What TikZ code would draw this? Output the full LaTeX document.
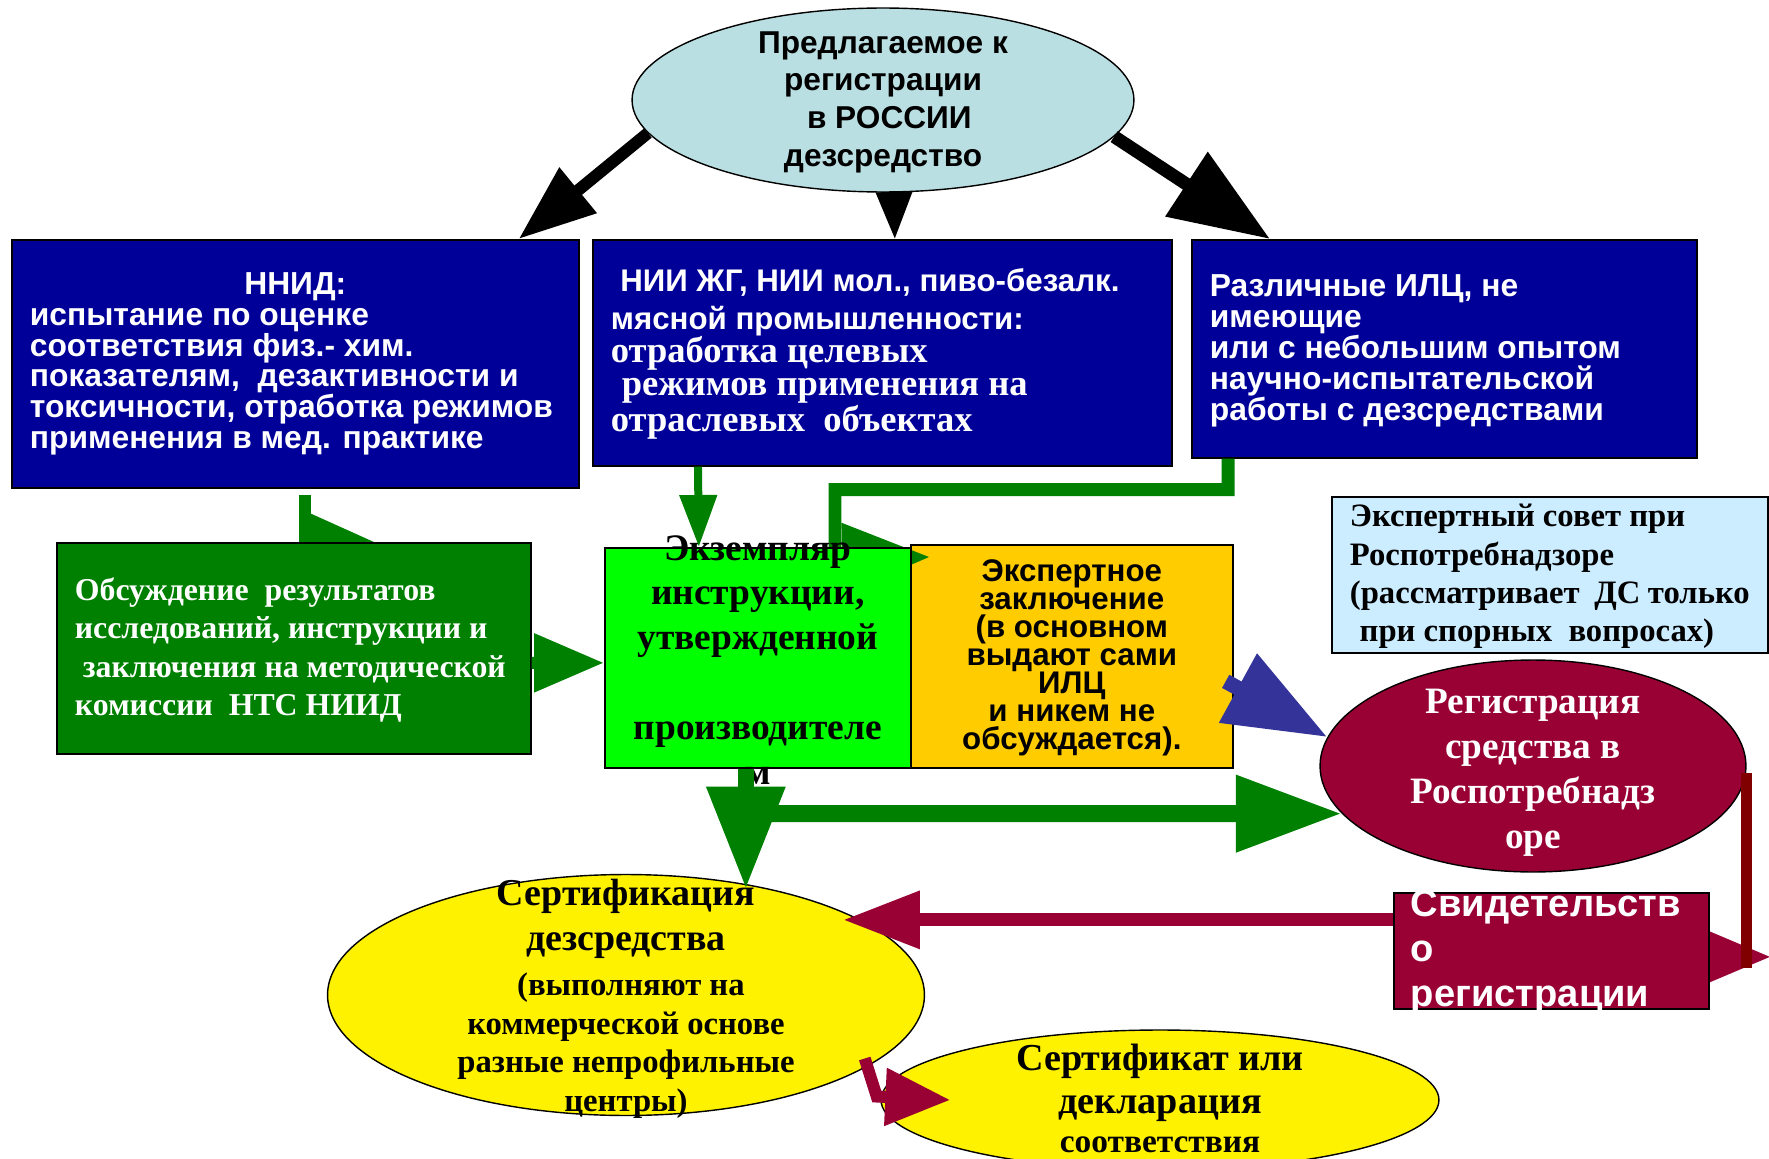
\documentclass[tikz,border=0pt]{standalone}
\usepackage{fontspec}
\setmainfont{Liberation Serif}
\setsansfont{Liberation Sans}
\usetikzlibrary{shapes.geometric,arrows.meta}

\definecolor{navy}{HTML}{000099}
\definecolor{paleteal}{HTML}{BADFE2}
\definecolor{dgreen}{HTML}{008000}
\definecolor{lgreen}{HTML}{00FF00}
\definecolor{gold}{HTML}{FFCC00}
\definecolor{skyblue}{HTML}{CCECFF}
\definecolor{wine}{HTML}{990033}
\definecolor{brick}{HTML}{800000}
\definecolor{indigo}{HTML}{333399}

\pgfdeclarelayer{background}
\pgfsetlayers{background,main}

% text does not count for the size of a node: boxes keep their own size
\newsavebox\txtbox
\newcommand{\boxtext}[3][7pt]{\setbox\txtbox\hbox{\parbox[c]{#2}{#3}}\ht\txtbox=0pt\dp\txtbox=0pt\hbox to 0pt{\hss\lower#1\box\txtbox\hss}}
\newcommand{\sans}[2]{\sffamily\bfseries\fontsize{#1}{#2}\selectfont}
\newcommand{\serif}[2]{\rmfamily\bfseries\fontsize{#1}{#2}\selectfont}

\tikzstyle{mybox} = [draw=black, line width=1pt, rectangle, inner sep=0pt, anchor=north west]
\tikzstyle{myoval} = [draw=black, line width=0.8pt, ellipse, inner sep=0pt]
\tikzset{fat/.style args={#1/#2/#3}{line width=#1, -{Triangle[length=#2,width=#3]}}}

\begin{document}
\begin{tikzpicture}[x=0.02cm, y=-0.02cm]
\useasboundingbox (0,0) rectangle (1769,1159);

\node[myoval, fill=paleteal, minimum width=10.04cm, minimum height=3.68cm] (pred) at (883,100)
  {\boxtext[7.5pt]{9cm}{\centering\sans{18}{21.5}Предлагаемое к\\ регистрации\\ \hspace*{.4em}в РОССИИ\\ дезсредство}};

\node[mybox, fill=navy, text=white, minimum width=11.34cm, minimum height=4.96cm] (nnid) at (11,239)
  {\boxtext[5pt]{10.62cm}{\sans{18.1}{17.6}\centering ННИД:\par\raggedright
   испытание по оценке\\ соответствия физ.- хим.\\ показателям,~ дезактивности и\\
   токсичности, отработка режимов\\ применения в мед. практике}};
\node[mybox, fill=navy, text=white, minimum width=11.58cm, minimum height=4.52cm] (nii) at (592,239)
  {\boxtext[6pt]{10.86cm}{\raggedright{\sans{17.8}{21.6}\hspace*{.3em}НИИ ЖГ, НИИ мол., пиво-безалк.\\ мясной промышленности:\par}%
   {\serif{20.8}{18.8}отработка целевых\\ \hspace*{.3em}режимов применения на\\ отраслевых~ объектах\par}}};
\node[mybox, fill=navy, text=white, minimum width=10.1cm, minimum height=4.36cm] (ilc) at (1191,239)
  {\boxtext{9.38cm}{\raggedright\sans{18.1}{17.6}Различные ИЛЦ, не\\ имеющие\\ или с небольшим опытом\\
   научно-испытательской\\ работы с дезсредствами}};

\draw[fat={.24cm/1.54cm/1.12cm}] (pred.188) -- ([xshift=-1.22cm]nnid.north east);
\draw[fat={.14cm/.94cm/.7cm}] ([xshift=.22cm]pred.south) -- ([xshift=.25cm]nii.north);
\draw[fat={.26cm/2cm/1.48cm}] (pred.-9) -- ([xshift=1.58cm]ilc.north west);

\node[mybox, fill=dgreen, text=white, minimum width=9.48cm, minimum height=4.22cm] (obs) at (56,542)
  {\boxtext{9.2cm}{\raggedright\leftskip=.22cm\serif{18.1}{21.8}Обсуждение~ результатов\\ исследований, инструкции и\\
   \hspace*{.25em}заключения на методической\\ комиссии~ НТС НИИД}};
\begin{pgfonlayer}{background}
\draw[dgreen, fat={.24cm/1.3cm/1.08cm}] ([xshift=.2cm,yshift=-.12cm]nnid.south) |- ([xshift=6.38cm]obs.north west);
\end{pgfonlayer}

\node[mybox, fill=gold, minimum width=6.44cm, minimum height=4.46cm] (expz) at (910,544)
  {\boxtext{6.44cm}{\centering\sans{17.8}{15.9}Экспертное\\ заключение\\ (в основном\\ выдают сами\\ ИЛЦ\\
   и никем не\\ обсуждается).}};
\draw[dgreen, fat={.26cm/1.76cm/1.36cm}] ([xshift=.74cm]ilc.south west) -- ++(0,31) -- ++(-393,0) -- ++(0,69)
  -- ([xshift=.4cm,yshift=-.26cm]expz.north west);
\node[mybox, fill=lgreen, minimum width=6.12cm, minimum height=4.4cm] (ekz) at (604,547)
  {\boxtext{6.12cm}{\centering\serif{21.3}{25.5}Экземпляр\\ инструкции,\\ утвержденной\\[25.5pt]
   производителе\\ м}};
\draw[dgreen, fat={.24cm/1.4cm/1.12cm}] ([yshift=-.29cm]obs.east) -- ([yshift=-.1cm]ekz.west);
\draw[dgreen, fat={.16cm/1.04cm/.72cm}] ([xshift=2.12cm]nii.south west) -- ([xshift=-1.18cm]ekz.north);

\node[mybox, fill=skyblue, minimum width=8.72cm, minimum height=3.12cm] (expsov) at (1331,496)
  {\boxtext{8cm}{\raggedright\serif{18.6}{21.8}Экспертный совет при\\ Роспотребнадзоре\\
   (рассматривает~ ДС только\\ \hspace*{.3em}при спорных~ вопросах)}};

\node[myoval, fill=wine, text=white, minimum width=8.52cm, minimum height=4.24cm] (reg) at (1533,766)
  {\boxtext[13pt]{8cm}{\centering\serif{21.2}{25.6}Регистрация\\ средства в\\ Роспотребнадз\\ оре}};
\draw[indigo, fat={.3cm/2.04cm/1.5cm}] ([xshift=-.16cm,yshift=-.5cm]expz.east) -- (reg.172);

\node[myoval, fill=yellow, minimum width=11.94cm, minimum height=4.82cm] (sert) at (626,995)
  {\boxtext[9pt]{11cm}{\centering{\serif{21.6}{25.6}Сертификация\\ дезсредства\par}\vskip4pt
   {\serif{18.6}{21.9}\hspace*{.3em}(выполняют на\\ коммерческой основе\\ разные непрофильные\\ центры)\par}}};
\draw[dgreen, fat={.32cm/2.04cm/1.5cm}] ([xshift=-.24cm]ekz.south) -- ++(0,120);
\draw[dgreen, fat={.34cm/2.12cm/1.46cm}] ([xshift=-.24cm,yshift=-.9cm]ekz.south) -- (reg.194);

\node[mybox, fill=wine, text=white, minimum width=6.3cm, minimum height=2.32cm] (svid) at (1393,892)
  {\boxtext[6pt]{5.62cm}{\raggedright\sans{21.7}{25.6}Свидетельств\\ о\\ регистрации}};
\begin{pgfonlayer}{background}
\draw[wine, fat={.2cm/1.22cm/.96cm}] ([yshift=-.12cm]svid.center) -- ([yshift=-.12cm,xshift=1.22cm]svid.east);
\end{pgfonlayer}
\draw[brick, line width=.22cm] ([yshift=-.14cm]reg.east) -- ++(0,195);
\draw[wine, fat={.26cm/1.54cm/1.1cm}] ([yshift=.62cm]svid.west) -- ++(-550,0);

\node[myoval, fill=yellow, minimum width=11.16cm, minimum height=2.8cm] (cert) at (1160,1100)
  {\boxtext[3pt]{10cm}{\centering{\serif{21.7}{24.5}Сертификат или\\ декларация\par}{\serif{19}{22}соответствия\par}}};
\draw[wine, fat={.24cm/1.3cm/1.1cm}] ([xshift=-.32cm]sert.-14) -- ++(12,38) -- ([xshift=1.4cm]cert.west);
\end{tikzpicture}
\end{document}
